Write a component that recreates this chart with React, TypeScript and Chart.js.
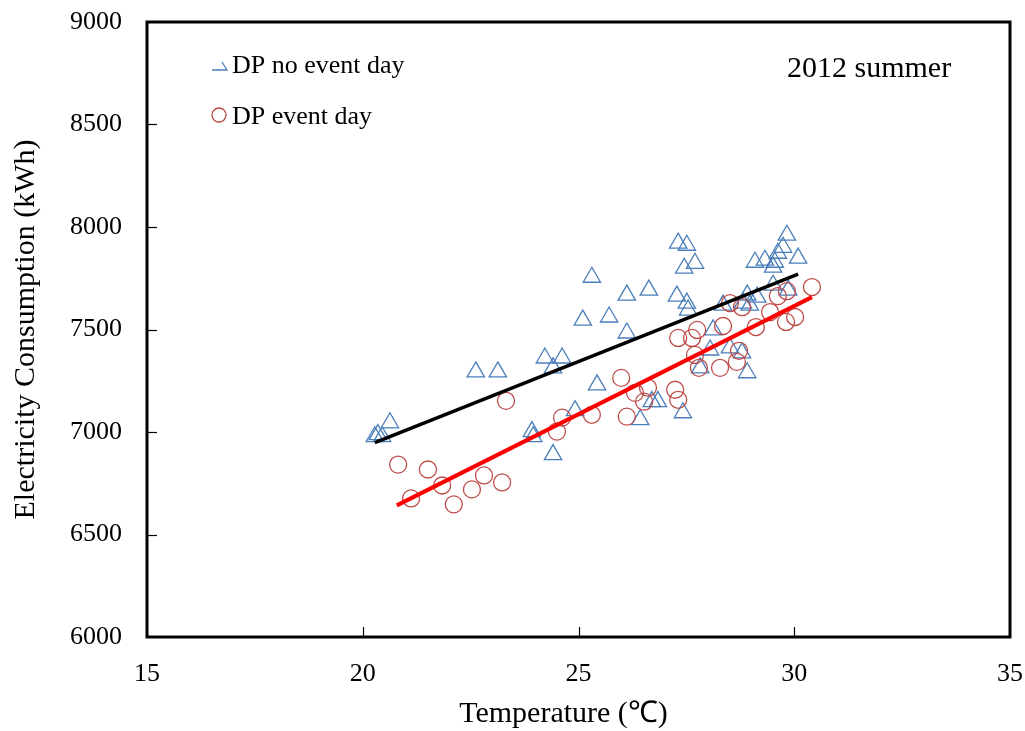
import React, { useEffect, useRef } from 'react';
import { Chart, registerables } from 'chart.js';

Chart.register(...registerables);

// DP no event day (temperature °C, consumption kWh)
const noEventTemp = [
  20.28, 20.35, 20.45, 20.63, 22.62, 23.13, 23.92, 23.95, 24.41, 24.22, 24.62, 24.41,
  24.92, 25.43, 25.10, 25.31, 25.71, 26.12, 26.12, 26.63, 26.43, 26.70, 26.84, 27.31,
  27.51, 27.45, 27.70, 27.28, 27.51, 27.54, 27.42, 27.82, 28.05, 28.12, 28.35, 28.51,
  28.79, 28.91, 28.81, 29.83, 29.74, 29.62, 30.09, 29.09, 29.32, 29.55, 29.51, 28.91,
  29.14, 29.51, 29.86, 28.97,
];
const noEventKWh = [
  6977, 6987, 6977, 7045, 7293, 7293, 7002, 6977, 6890, 7361, 7361, 7313,
  7104, 7230, 7546, 7755, 7561, 7668, 7483, 7692, 7060, 7148, 7148, 7921,
  7911, 7799, 7823, 7663, 7629, 7595, 7094, 7313, 7400, 7498, 7619, 7410,
  7386, 7289, 7629, 7960, 7901, 7872, 7848, 7828, 7838, 7828, 7804, 7668,
  7658, 7716, 7692, 7619,
];

// DP event day
const eventTemp = [
  20.82, 21.12, 21.51, 21.84, 22.11, 22.53, 22.81, 23.23, 23.32, 24.50, 24.62, 25.31,
  25.99, 26.12, 26.31, 26.52, 26.61, 27.24, 27.31, 27.31, 27.63, 27.75, 27.70, 27.79,
  28.28, 28.35, 28.51, 28.79, 28.67, 28.72, 29.11, 29.44, 29.62, 29.83, 29.81, 30.02,
  30.41,
];
const eventKWh = [
  6841, 6676, 6817, 6739, 6647, 6720, 6788, 6754, 7152, 7002, 7070, 7084,
  7264, 7075, 7191, 7148, 7216, 7206, 7157, 7459, 7459, 7498, 7376, 7313,
  7313, 7517, 7629, 7609, 7342, 7396, 7512, 7585, 7663, 7687, 7537, 7561,
  7707,
];

// Linear fit lines (end points)
const noEventFitTemp = [20.28, 30.09];
const noEventFitKWh = [6948, 7770];
const eventFitTemp = [20.79, 30.41];
const eventFitKWh = [6642, 7658];

const xTickValues = [15, 20, 25, 30, 35];
const yTickValues = [6000, 6500, 7000, 7500, 8000, 8500, 9000];

const seriesNames = ['DP no event day', 'DP event day'];
const annotationText = '2012 summer';
const xTitle = 'Temperature (℃)';
const yTitle = 'Electricity Consumption (kWh)';

const FONT = '"Liberation Serif", "Times New Roman", serif';
const BLUE = '#4A7EBB';
const RED = '#BE4B48';

const zip = (xs: number[], ys: number[]) => xs.map((x, i) => ({ x, y: ys[i] }));

const overlayPlugin = {
  id: 'overlay',
  afterDraw(chart: any) {
    const { ctx, chartArea } = chart;
    const { left, right, top, bottom } = chartArea;
    const xs = chart.scales.x;
    const ys = chart.scales.y;
    ctx.save();
    // frame
    ctx.strokeStyle = '#000';
    ctx.lineWidth = 3;
    ctx.strokeRect(left, top, right - left, bottom - top);
    // inward tick marks
    ctx.lineWidth = 1.2;
    yTickValues.slice(1, -1).forEach((v) => {
      const py = Math.round(ys.getPixelForValue(v)) + 0.5;
      ctx.beginPath();
      ctx.moveTo(left, py);
      ctx.lineTo(left + 10, py);
      ctx.stroke();
    });
    xTickValues.slice(1, -1).forEach((v) => {
      const px = Math.round(xs.getPixelForValue(v)) + 0.5;
      ctx.beginPath();
      ctx.moveTo(px, bottom);
      ctx.lineTo(px, bottom - 10);
      ctx.stroke();
    });
    // x axis title
    ctx.fillStyle = '#000';
    ctx.font = `30px ${FONT}`;
    ctx.textAlign = 'center';
    ctx.textBaseline = 'middle';
    ctx.fillText(xTitle, (left + right) / 2 - 15, chart.height - 17);
    // legend
    const lx = left + 72;
    ctx.strokeStyle = BLUE;
    ctx.lineWidth = 1.3;
    ctx.beginPath();
    ctx.moveTo(lx - 7, top + 48);
    ctx.lineTo(lx + 8, top + 48);
    ctx.lineTo(lx + 3, top + 40);
    ctx.stroke();
    ctx.strokeStyle = RED;
    ctx.beginPath();
    ctx.arc(lx, top + 93, 7, 0, Math.PI * 2);
    ctx.stroke();
    ctx.font = `26px ${FONT}`;
    ctx.textAlign = 'left';
    ctx.textBaseline = 'alphabetic';
    ctx.fillText(seriesNames[0], lx + 13, top + 51);
    ctx.fillText(seriesNames[1], lx + 13, top + 102);
    ctx.font = `30px ${FONT}`;
    ctx.fillText(annotationText, left + 640, top + 55);
    ctx.restore();
  },
};

export default function App() {
  const ref = useRef<HTMLCanvasElement | null>(null);
  useEffect(() => {
    document.body.style.margin = '0';
    const canvas = ref.current;
    if (!canvas) return;
    const chart = new Chart(canvas, {
      type: 'scatter',
      data: {
        datasets: [
          {
            type: 'line',
            label: 'fit no event',
            data: zip(noEventFitTemp, noEventFitKWh),
            borderColor: '#000',
            borderWidth: 3.5,
            pointRadius: 0,
            showLine: true,
          },
          {
            type: 'line',
            label: 'fit event',
            data: zip(eventFitTemp, eventFitKWh),
            borderColor: '#FF0000',
            borderWidth: 4,
            pointRadius: 0,
            showLine: true,
          },
          {
            label: seriesNames[1],
            data: zip(eventTemp, eventKWh),
            pointStyle: 'circle',
            pointRadius: 8.5,
            pointBorderWidth: 1.3,
            borderColor: RED,
            backgroundColor: 'rgba(0,0,0,0)',
            pointBackgroundColor: 'rgba(0,0,0,0)',
            pointBorderColor: RED,
          },
          {
            label: seriesNames[0],
            data: zip(noEventTemp, noEventKWh),
            pointStyle: 'triangle',
            pointRadius: 10,
            pointBorderWidth: 1.3,
            borderColor: BLUE,
            backgroundColor: 'rgba(0,0,0,0)',
            pointBackgroundColor: 'rgba(0,0,0,0)',
            pointBorderColor: BLUE,
          },
        ],
      },
      options: {
        responsive: false,
        animation: false,
        layout: { padding: { top: 22, right: 15, left: 0, bottom: 0 } },
        plugins: {
          legend: { display: false },
          tooltip: { enabled: false },
        },
        scales: {
          x: {
            type: 'linear',
            min: 15,
            max: 35,
            afterBuildTicks: (scale: any) => {
              scale.ticks = xTickValues.map((v) => ({ value: v }));
            },
            afterFit: (scale: any) => {
              scale.height = 94;
            },
            grid: {
              display: true,
              drawOnChartArea: false,
              drawTicks: true,
              tickLength: 20,
              tickColor: 'rgba(0,0,0,0)',
            },
            border: { display: false },
            ticks: {
              padding: 2,
              color: '#000',
              font: { family: FONT, size: 26 },
              callback: (v: any) => String(v),
            },
            title: { display: false },
          },
          y: {
            type: 'linear',
            min: 6000,
            max: 9000,
            afterBuildTicks: (scale: any) => {
              scale.ticks = yTickValues.map((v) => ({ value: v }));
            },
            afterFit: (scale: any) => {
              scale.width = 147;
            },
            grid: {
              display: true,
              drawOnChartArea: false,
              drawTicks: true,
              tickLength: 23,
              tickColor: 'rgba(0,0,0,0)',
            },
            border: { display: false },
            ticks: {
              padding: 2,
              color: '#000',
              font: { family: FONT, size: 26 },
              callback: (v: any) => String(v),
            },
            title: {
              display: true,
              text: yTitle,
              color: '#000',
              font: { family: FONT, size: 30 },
              padding: { top: 8, bottom: 0 },
            },
          },
        },
      },
      plugins: [overlayPlugin],
    } as any);
    return () => chart.destroy();
  }, []);
  return (
    <canvas
      ref={ref}
      width={1025}
      height={731}
      style={{ display: 'block', width: 1025, height: 731 }}
    />
  );
}
